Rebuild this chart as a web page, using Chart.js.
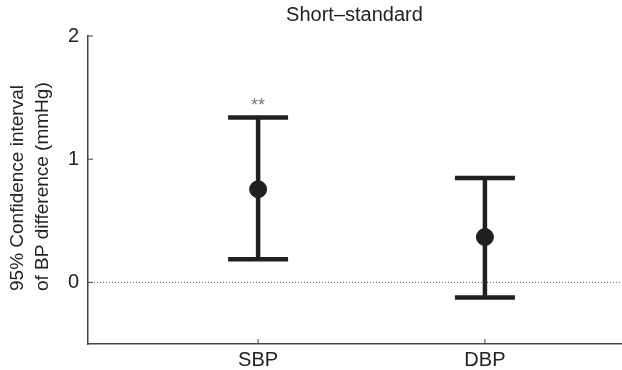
<!DOCTYPE html>
<html>
<head>
    <title>Short-standard BP difference</title>
    <meta charset="utf-8">
    <script src="https://cdn.jsdelivr.net/npm/chart.js"></script>
    <style>
        html, body { margin: 0; padding: 0; background: #fff; }
        #wrap { width: 622px; height: 370px; }
    </style>
</head>
<body>
    <div id="wrap"><canvas id="ciChart" width="622" height="370"></canvas></div>

    <script>
        // data
        const categories = ['SBP', 'DBP'];
        const meanDiff = [0.756, 0.368];
        const ciLower = [0.187, -0.122];
        const ciUpper = [1.339, 0.848];
        const marks = ['**', ''];
        const yTicks = [0, 1, 2];
        const chartTitle = 'Short\u2013standard';
        const yTitle = ['95% Confidence interval', 'of BP difference (mmHg)'];

        const ink = '#231f20';
        const fontFamily = '"Liberation Sans", Arial, Helvetica, sans-serif';

        // error bars, zero line, inward ticks, marks and titles
        const ciPlugin = {
            id: 'ciPlugin',
            beforeDatasetsDraw(chart) {
                const { ctx, chartArea, scales } = chart;
                const x = scales.x, y = scales.y;
                ctx.save();
                // dotted reference line at 0
                const y0 = y.getPixelForValue(0);
                ctx.strokeStyle = '#666';
                ctx.lineWidth = 1;
                ctx.setLineDash([1, 2]);
                ctx.beginPath();
                ctx.moveTo(chartArea.left, y0);
                ctx.lineTo(chartArea.right, y0);
                ctx.stroke();
                ctx.setLineDash([]);

                // inward tick marks
                ctx.strokeStyle = '#444';
                ctx.lineWidth = 1;
                yTicks.forEach(v => {
                    const py = y.getPixelForValue(v);
                    ctx.beginPath();
                    ctx.moveTo(chartArea.left, py);
                    ctx.lineTo(chartArea.left + 5, py);
                    ctx.stroke();
                });
                categories.forEach((c, i) => {
                    const px = x.getPixelForValue(i + 1);
                    ctx.beginPath();
                    ctx.moveTo(px, chartArea.bottom);
                    ctx.lineTo(px, chartArea.bottom - 5);
                    ctx.stroke();
                });

                // confidence intervals
                ctx.strokeStyle = ink;
                ctx.lineWidth = 4.5;
                categories.forEach((c, i) => {
                    const px = x.getPixelForValue(i + 1);
                    const lo = y.getPixelForValue(ciLower[i]);
                    const hi = y.getPixelForValue(ciUpper[i]);
                    ctx.beginPath();
                    ctx.moveTo(px, lo);
                    ctx.lineTo(px, hi);
                    ctx.moveTo(px - 30, lo);
                    ctx.lineTo(px + 30, lo);
                    ctx.moveTo(px - 30, hi);
                    ctx.lineTo(px + 30, hi);
                    ctx.stroke();

                    if (marks[i]) {
                        ctx.fillStyle = '#777';
                        ctx.font = '18px ' + fontFamily;
                        ctx.textAlign = 'center';
                        ctx.textBaseline = 'alphabetic';
                        ctx.fillText(marks[i], px, hi - 6);
                    }
                });

                // title centred over the plot area
                ctx.fillStyle = '#222';
                ctx.font = '20px ' + fontFamily;
                ctx.textAlign = 'center';
                ctx.textBaseline = 'middle';
                ctx.fillText(chartTitle, (chartArea.left + chartArea.right) / 2, 15);

                // y axis title, two lines starting from the same point
                ctx.translate(0, 291);
                ctx.rotate(-Math.PI / 2);
                ctx.font = '19px ' + fontFamily;
                ctx.textAlign = 'left';
                ctx.fillText(yTitle[0], 0, 18);
                ctx.fillText(yTitle[1], 0, 43);
                ctx.restore();
            }
        };

        new Chart(document.getElementById('ciChart'), {
            type: 'scatter',
            data: {
                datasets: [{
                    data: meanDiff.map((v, i) => ({ x: i + 1, y: v })),
                    backgroundColor: ink,
                    borderColor: ink,
                    pointRadius: 8.5,
                    pointHoverRadius: 8.5
                }]
            },
            options: {
                responsive: false,
                animation: false,
                layout: { autoPadding: false, padding: { left: 0, right: 1, top: 36, bottom: 0 } },
                plugins: {
                    legend: { display: false },
                    tooltip: { enabled: false },
                    title: { display: false }
                },
                scales: {
                    x: {
                        type: 'linear',
                        min: 0.25,
                        max: 2.6,
                        afterBuildTicks: s => { s.ticks = categories.map((c, i) => ({ value: i + 1 })); },
                        afterFit: s => { s.height = 26; },
                        grid: { display: false, drawTicks: false },
                        border: { display: true, color: '#444', width: 1.5 },
                        ticks: {
                            padding: 4,
                            color: '#222',
                            font: { family: fontFamily, size: 20 },
                            callback: v => categories[v - 1]
                        }
                    },
                    y: {
                        min: -0.5,
                        max: 2,
                        afterBuildTicks: s => { s.ticks = yTicks.map(v => ({ value: v })); },
                        afterFit: s => { s.width = 88; },
                        grid: { display: false, drawTicks: false },
                        border: { display: true, color: '#444', width: 1.5 },
                        ticks: {
                            padding: 9,
                            color: '#222',
                            font: { family: fontFamily, size: 20 }
                        }
                    }
                }
            },
            plugins: [ciPlugin]
        });
    </script>
</body>
</html>
